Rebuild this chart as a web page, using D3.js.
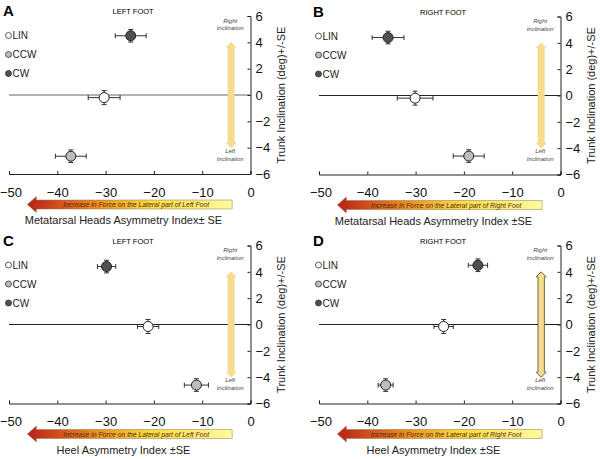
<!DOCTYPE html>
<html><head><meta charset="utf-8">
<script src="https://cdn.jsdelivr.net/npm/d3@7"></script>
<style>body{margin:0;background:#fff}svg{display:block}text{font-family:"Liberation Sans",Arial,Helvetica,sans-serif}</style>
</head><body><svg id="c" width="600" height="459"></svg>
<script>
const conditions = ["LIN", "CCW", "CW"];
const conditionFill = ["#ffffff", "#bdbdbd", "#505050"];
const xTicks = [-50, -40, -30, -20, -10, 0];
const yTicks = [-6, -4, -2, 0, 2, 4, 6];
const panelLetters = ["A", "B", "C", "D"];
const panelFeet = ["LEFT FOOT", "RIGHT FOOT", "LEFT FOOT", "RIGHT FOOT"];
const panelXTitles = ["Metatarsal Heads Asymmetry Index\u00b1 SE", "Metatarsal Heads Asymmetry Index \u00b1SE", "Heel Asymmetry Index \u00b1SE", "Heel Asymmetry Index \u00b1SE"];
const panelArrowTexts = ["Increase in Force on the Lateral part of Left Foot", "Increase in Force on the Lateral part of Right Foot", "Increase in Force on the Lateral part of Left Foot", "Increase in Force on the Lateral part of Right Foot"];
// values per condition (LIN, CCW, CW)
const panelA_x = [-30.3, -37.2, -24.8];
const panelA_xErr = [3.3, 3.2, 3.2];
const panelA_y = [-0.2, -4.65, 4.5];
const panelA_yErr = [0.53, 0.48, 0.48];
const panelB_x = [-30.1, -19.0, -35.7];
const panelB_xErr = [3.7, 3.2, 3.3];
const panelB_y = [-0.2, -4.6, 4.4];
const panelB_yErr = [0.53, 0.48, 0.48];
const panelC_x = [-21.2, -11.2, -29.8];
const panelC_xErr = [2.2, 2.5, 1.9];
const panelC_y = [-0.15, -4.6, 4.4];
const panelC_yErr = [0.53, 0.48, 0.48];
const panelD_x = [-24.2, -36.2, -17.1];
const panelD_xErr = [2.0, 1.55, 2.0];
const panelD_y = [-0.15, -4.6, 4.5];
const panelD_yErr = [0.53, 0.48, 0.48];
const arrowX = -4;
const arrowY = [4, -4];

const panels = [
  {x: panelA_x, xe: panelA_xErr, y: panelA_y, ye: panelA_yErr, ox: 9, oy: 16},
  {x: panelB_x, xe: panelB_xErr, y: panelB_y, ye: panelB_yErr, ox: 319, oy: 16.5},
  {x: panelC_x, xe: panelC_xErr, y: panelC_y, ye: panelC_yErr, ox: 9, oy: 245.5},
  {x: panelD_x, xe: panelD_xErr, y: panelD_y, ye: panelD_yErr, ox: 319, oy: 245.5}
];
const svg = d3.select("#c");
const defs = svg.append("defs");
const grad = defs.append("linearGradient").attr("id", "grad").attr("x1", "0").attr("x2", "1").attr("y1", "0").attr("y2", "0");
grad.append("stop").attr("offset", "0%").attr("stop-color", "#b8201a");
grad.append("stop").attr("offset", "30%").attr("stop-color", "#e8801e");
grad.append("stop").attr("offset", "60%").attr("stop-color", "#f8dc40");
grad.append("stop").attr("offset", "100%").attr("stop-color", "#fffaa0");

panels.forEach((p, i) => {
  const W = 241.5, H = 158;
  const g = svg.append("g").attr("transform", `translate(${p.ox},${p.oy})`);
  const xs = d3.scaleLinear().domain([-50, 0]).range([0, W]);
  const ys = d3.scaleLinear().domain([-6, 6]).range([H, 0]);

  // letter & foot
  g.append("text").attr("x", -6).attr("y", 0).text(panelLetters[i]).attr("font-size", 15).attr("font-weight", "bold");
  g.append("text").attr("x", xs(-24.3)).attr("y", -2).attr("text-anchor", "middle").text(panelFeet[i]).attr("font-size", 7.5);

  // zero line
  g.append("line").attr("x1", xs(-50)).attr("x2", xs(0)).attr("y1", ys(0)).attr("y2", ys(0)).attr("stroke", i === 0 ? "#666" : "#222").attr("stroke-width", 1);

  // axes
  const xa = g.append("g").attr("transform", `translate(0,${H})`).call(d3.axisBottom(xs).tickValues(xTicks).tickSize(-3).tickPadding(7).tickFormat(d3.format("d")));
  xa.selectAll("text").attr("font-size", 13).attr("fill", "#111").attr("dy", "1.2em")
    .attr("dx", d => d === -50 ? 1.5 : 0);
  const ya = g.append("g").attr("transform", `translate(${W},0)`).call(d3.axisRight(ys).tickValues(yTicks).tickSize(-3).tickPadding(5).tickFormat(d3.format("d")));
  ya.selectAll("text").attr("font-size", 13).attr("fill", "#111");
  g.selectAll(".domain").attr("stroke", "#222");
  g.selectAll(".tick line").attr("stroke", "#222");

  // y title
  g.append("text").attr("transform", `translate(${W + 34},${ys(0)}) rotate(-90)`).attr("text-anchor", "middle").attr("font-size", 11).attr("fill", "#222").text("Trunk Inclination (deg)+/-SE");

  // vertical double arrow
  const ax = xs(arrowX), ay1 = ys(arrowY[0]), ay2 = ys(arrowY[1]);
  const bw = 3.2, hw = 5, hl = 5;
  const path = `M${ax},${ay1} L${ax + hw},${ay1 + hl} L${ax + bw},${ay1 + hl} L${ax + bw},${ay2 - hl} L${ax + hw},${ay2 - hl} L${ax},${ay2} L${ax - hw},${ay2 - hl} L${ax - bw},${ay2 - hl} L${ax - bw},${ay1 + hl} L${ax - hw},${ay1 + hl} Z`;
  g.append("path").attr("d", path).attr("fill", "#f7dc8e").attr("stroke", i === 3 ? "#6a5a30" : "#e8d49a").attr("stroke-width", i === 3 ? 0.9 : 0.5);
  g.append("text").attr("x", ax - 1).attr("y", ys(5.5)).attr("text-anchor", "middle").attr("font-size", 6).attr("font-style", "italic").attr("fill", "#444").text("Right");
  g.append("text").attr("x", ax - 1).attr("y", ys(4.9)).attr("text-anchor", "middle").attr("font-size", 6).attr("font-style", "italic").attr("fill", "#444").text("Inclination");
  g.append("text").attr("x", ax - 1).attr("y", ys(-4.4)).attr("text-anchor", "middle").attr("font-size", 6).attr("font-style", "italic").attr("fill", "#444").text("Left");
  g.append("text").attr("x", ax - 1).attr("y", ys(-5.0)).attr("text-anchor", "middle").attr("font-size", 6).attr("font-style", "italic").attr("fill", "#444").text("Inclination");

  // legend
  conditions.forEach((c, k) => {
    const ly = 19.5 + k * 19;
    g.append("circle").attr("cx", -0.5).attr("cy", ly).attr("r", 3).attr("fill", conditionFill[k]).attr("stroke", "#333").attr("stroke-width", 0.8);
    g.append("text").attr("x", 3.5).attr("y", ly + 3.5).attr("font-size", 10).attr("fill", "#222").text(c);
  });

  // error bars and points
  conditions.forEach((c, k) => {
    const cx = xs(p.x[k]), cy = ys(p.y[k]);
    const x1 = xs(p.x[k] - p.xe[k]), x2 = xs(p.x[k] + p.xe[k]);
    const y1 = ys(p.y[k] + p.ye[k]), y2 = ys(p.y[k] - p.ye[k]);
    const eg = g.append("g").attr("stroke", "#333").attr("stroke-width", 1);
    eg.append("line").attr("x1", x1).attr("x2", x2).attr("y1", cy).attr("y2", cy);
    eg.append("line").attr("x1", x1).attr("x2", x1).attr("y1", cy - 2.5).attr("y2", cy + 2.5);
    eg.append("line").attr("x1", x2).attr("x2", x2).attr("y1", cy - 2.5).attr("y2", cy + 2.5);
    eg.append("line").attr("x1", cx).attr("x2", cx).attr("y1", y1).attr("y2", y2);
    eg.append("line").attr("x1", cx - 2.5).attr("x2", cx + 2.5).attr("y1", y1).attr("y2", y1);
    eg.append("line").attr("x1", cx - 2.5).attr("x2", cx + 2.5).attr("y1", y2).attr("y2", y2);
    g.append("circle").attr("cx", cx).attr("cy", cy).attr("r", 5).attr("fill", conditionFill[k]).attr("stroke", "#222").attr("stroke-width", 1);
  });

  // horizontal gradient arrow
  const tipX = xs(-46.2), endX = xs(-3.8), my = H + 30.5;
  const bh = 4.5, hh = 8, hlen = 9;
  const hp = `M${tipX},${my} L${tipX + hlen},${my - hh} L${tipX + hlen},${my - bh} L${endX},${my - bh} L${endX},${my + bh} L${tipX + hlen},${my + bh} L${tipX + hlen},${my + hh} Z`;
  g.append("path").attr("d", hp).attr("fill", "url(#grad)").attr("stroke", "#8a7a50").attr("stroke-width", 0.5);
  g.append("text").attr("x", (tipX + hlen + endX) / 2 + 2).attr("y", my + 2.5).attr("text-anchor", "middle").attr("font-size", 6.8).attr("font-style", "italic").attr("fill", "#5a2a10").text(panelArrowTexts[i]);

  // x title
  g.append("text").attr("x", xs(-26.3)).attr("y", H + 50).attr("text-anchor", "middle").attr("font-size", 11).attr("fill", "#222").text(panelXTitles[i]);
});
</script></body></html>
